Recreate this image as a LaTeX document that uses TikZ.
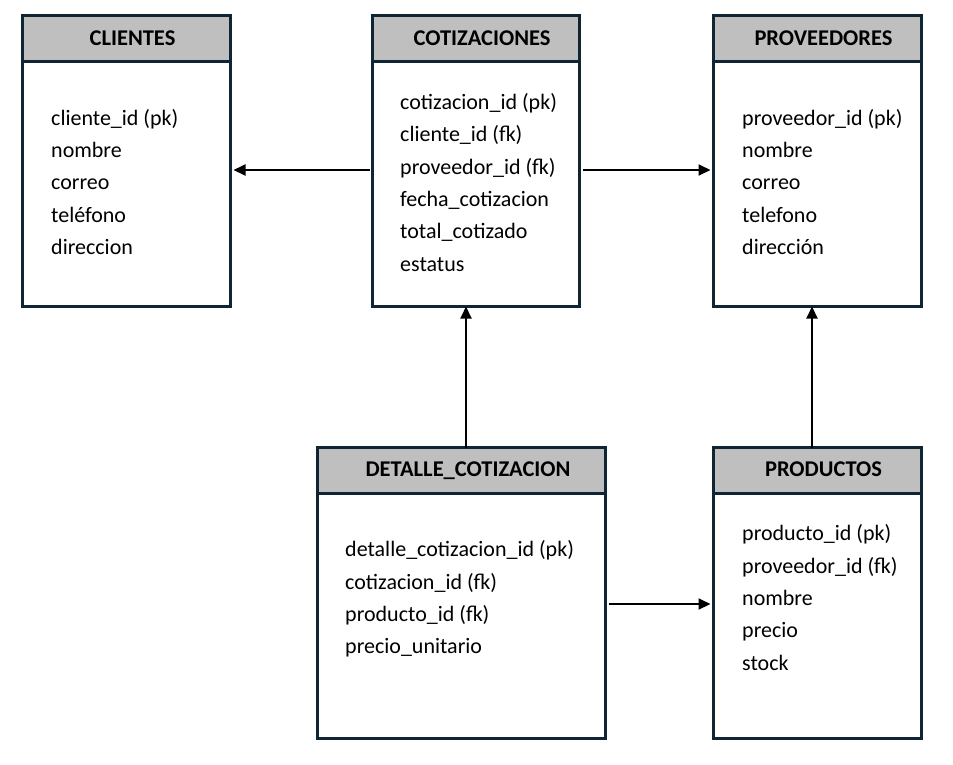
\documentclass[tikz,border=0pt]{standalone}
\usepackage{fontspec}
\setmainfont{Carlito}
\usetikzlibrary{arrows.meta}
\definecolor{bordc}{RGB}{16,37,52}
\definecolor{hdrc}{RGB}{191,191,191}
\tikzset{
  tbl/.style={draw=bordc, line width=3pt, fill=white, inner sep=0pt, minimum height=291pt},
  hdr/.style={draw=bordc, line width=3pt, fill=hdrc, inner sep=0pt, minimum height=45.5pt, anchor=north},
  htxt/.style={font=\fontsize{22.5}{27}\selectfont\bfseries, anchor=base, inner sep=0pt},
  fld/.style={font=\fontsize{22}{26}\selectfont, anchor=base west, inner sep=0pt},
  arr/.style={line width=2pt, -{Triangle[length=12pt,width=11pt]}}
}
\begin{document}
\begin{tikzpicture}[x=1pt,y=-1pt]
\useasboundingbox[fill=white] (0,0) rectangle (953,764);
% boxes
\node[tbl, minimum width=208pt] (cli) at (126.5,161) {};
\node[hdr, minimum width=208pt] (clih) at (cli.north) {};
\node[tbl, minimum width=207pt] (cot) at (476,161) {};
\node[hdr, minimum width=207pt] (coth) at (cot.north) {};
\node[tbl, minimum width=208pt] (pro) at (817.5,161) {};
\node[hdr, minimum width=208pt] (proh) at (pro.north) {};
\node[tbl, minimum width=288pt] (det) at (461.5,593) {};
\node[hdr, minimum width=288pt] (deth) at (det.north) {};
\node[tbl, minimum width=208pt] (prd) at (817.5,593) {};
\node[hdr, minimum width=208pt] (prdh) at (prd.north) {};
% headers
\node[htxt] (clit) at (132.5,45) {CLIENTES};
\node[htxt] (cott) at (482,45) {COTIZACIONES};
\node[htxt] (prot) at (823.5,45) {PROVEEDORES};
\node[htxt] (dett) at (468,476.7) {DETALLE\_COTIZACION};
\node[htxt] (prdt) at (823.5,476.7) {PRODUCTOS};
% fields
\foreach \t [count=\i] in {cliente\_id (pk),nombre,correo,teléfono,direccion}
  \node[fld] (clif\i) at (51,125+32.4*\i-32.4) {\t};
\foreach \t [count=\i] in {cotizacion\_id (pk),cliente\_id (fk),proveedor\_id (fk),fecha\_cotizacion,total\_cotizado,estatus}
  \node[fld] (cotf\i) at (400,109.3+32.4*\i-32.4) {\t};
\foreach \t [count=\i] in {proveedor\_id (pk),nombre,correo,telefono,dirección}
  \node[fld] (prof\i) at (742,125+32.4*\i-32.4) {\t};
\foreach \t [count=\i] in {detalle\_cotizacion\_id (pk),cotizacion\_id (fk),producto\_id (fk),precio\_unitario}
  \node[fld] (detf\i) at (345,556.7+32.4*\i-32.4) {\t};
\foreach \t [count=\i] in {producto\_id (pk),proveedor\_id (fk),nombre,precio,stock}
  \node[fld] (prdf\i) at (742,540.7+32.4*\i-32.4) {\t};
% connectors
\draw[arr] ([xshift=-1.5pt]cot.west |- 0,170) -- ([xshift=1.5pt]cli.east |- 0,170);
\draw[arr] ([xshift=1.5pt]cot.east |- 0,170) -- ([xshift=-1.5pt]pro.west |- 0,170);
\draw[arr] ([yshift=-1.5pt]det.north -| 466,0) -- ([yshift=1.5pt]cot.south -| 466,0);
\draw[arr] ([yshift=-1.5pt]prd.north -| 812,0) -- ([yshift=1.5pt]pro.south -| 812,0);
\draw[arr] ([xshift=1.5pt]det.east |- 0,604) -- ([xshift=-1.5pt]prd.west |- 0,604);
\end{tikzpicture}
\end{document}
